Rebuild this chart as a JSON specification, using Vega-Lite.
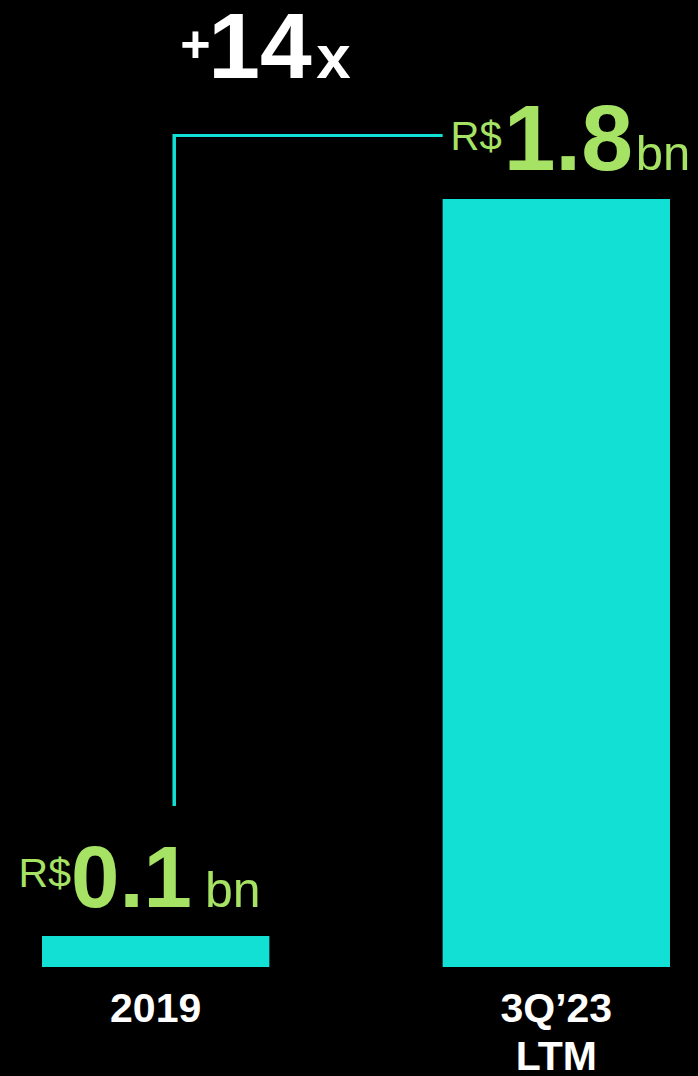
{
  "$schema": "https://vega.github.io/schema/vega-lite/v6.json",
  "width": 698,
  "height": 1076,
  "autosize": {"type": "none"},
  "padding": 0,
  "background": "#000000",
  "config": {"view": {"stroke": null}, "font": "Liberation Sans"},
  "datasets": {
    "bars": [
      {"period": "2019", "value": 0.0727, "amount": "0.1", "currency": "R$", "unit": "bn"},
      {"period": "3Q’23 LTM", "value": 1.8, "amount": "1.8", "currency": "R$", "unit": "bn"}
    ],
    "growth": [
      {"from": "2019", "to": "3Q’23 LTM", "low": 0.3773, "high": 1.9523, "level": 1.9488, "plus": "+", "multiple": "14", "suffix": "x"}
    ]
  },
  "encoding": {
    "x": {"field": "period", "type": "nominal", "sort": null,
          "scale": {"domain": ["2019", "3Q’23 LTM"], "range": [42, 670], "paddingInner": 0.4325, "paddingOuter": 0},
          "axis": null}
  },
  "layer": [
    {
      "data": {"name": "bars"},
      "mark": {"type": "bar", "color": "#13E0D5"},
      "encoding": {
        "y": {"field": "value", "type": "quantitative", "scale": {"domain": [0, 2.2664], "range": [967, 0], "nice": false, "zero": true}, "axis": null}
      }
    },
    {
      "data": {"name": "bars"},
      "mark": {"type": "text", "font": "Liberation Sans", "fontWeight": "bold", "fontSize": 41, "color": "#FFFFFF", "align": "center", "baseline": "alphabetic", "lineBreak": " ", "lineHeight": 48, "dy": 55},
      "encoding": {
        "y": {"datum": 0, "type": "quantitative"},
        "text": {"field": "period"}
      }
    },
    {
      "data": {"name": "bars"},
      "transform": [{"filter": "datum.period === '2019'"}],
      "layer": [
        {"mark": {"type": "text", "fontSize": 41, "color": "#A6E264", "align": "right", "baseline": "alphabetic", "dx": 29, "dy": -49},
         "encoding": {"x": {"field": "period", "type": "nominal", "bandPosition": 0}, "y": {"field": "value", "type": "quantitative"}, "text": {"field": "currency"}}},
        {"mark": {"type": "text", "fontSize": 87, "fontWeight": "bold", "color": "#A6E264", "align": "left", "baseline": "alphabetic", "dx": 29, "dy": -29},
         "encoding": {"x": {"field": "period", "type": "nominal", "bandPosition": 0}, "y": {"field": "value", "type": "quantitative"}, "text": {"field": "amount"}}},
        {"mark": {"type": "text", "fontSize": 50, "color": "#A6E264", "align": "left", "baseline": "alphabetic", "dx": 163, "dy": -29},
         "encoding": {"x": {"field": "period", "type": "nominal", "bandPosition": 0}, "y": {"field": "value", "type": "quantitative"}, "text": {"field": "unit"}}}
      ]
    },
    {
      "data": {"name": "bars"},
      "transform": [{"filter": "datum.period !== '2019'"}],
      "layer": [
        {"mark": {"type": "text", "fontSize": 40, "color": "#A6E264", "align": "right", "baseline": "alphabetic", "dx": 59, "dy": -49},
         "encoding": {"x": {"field": "period", "type": "nominal", "bandPosition": 0}, "y": {"field": "value", "type": "quantitative"}, "text": {"field": "currency"}}},
        {"mark": {"type": "text", "fontSize": 93, "fontWeight": "bold", "color": "#A6E264", "align": "left", "baseline": "alphabetic", "dx": 61, "dy": -29},
         "encoding": {"x": {"field": "period", "type": "nominal", "bandPosition": 0}, "y": {"field": "value", "type": "quantitative"}, "text": {"field": "amount"}}},
        {"mark": {"type": "text", "fontSize": 49, "color": "#A6E264", "align": "left", "baseline": "alphabetic", "dx": 193, "dy": -29},
         "encoding": {"x": {"field": "period", "type": "nominal", "bandPosition": 0}, "y": {"field": "value", "type": "quantitative"}, "text": {"field": "unit"}}}
      ]
    },
    {
      "data": {"name": "growth"},
      "mark": {"type": "rule", "color": "#13E0D5", "strokeWidth": 3.5},
      "encoding": {
        "x": {"field": "from", "type": "nominal", "bandPosition": 0.5815},
        "y": {"field": "low", "type": "quantitative"},
        "y2": {"field": "high"}
      }
    },
    {
      "data": {"name": "growth"},
      "mark": {"type": "rule", "color": "#13E0D5", "strokeWidth": 3},
      "encoding": {
        "x": {"field": "from", "type": "nominal", "bandPosition": 0.5815},
        "x2": {"field": "to", "bandPosition": 0},
        "y": {"field": "level", "type": "quantitative"}
      }
    },
    {
      "data": {"name": "growth"},
      "layer": [
        {"mark": {"type": "text", "fontSize": 52, "fontWeight": "bold", "color": "#FFFFFF", "align": "left", "baseline": "alphabetic", "dx": 6, "dy": -74},
         "encoding": {"x": {"field": "from", "type": "nominal", "bandPosition": 0.5815}, "y": {"field": "level", "type": "quantitative"}, "text": {"field": "plus"}}},
        {"mark": {"type": "text", "fontSize": 93, "fontWeight": "bold", "color": "#FFFFFF", "align": "left", "baseline": "alphabetic", "dx": 34, "dy": -58},
         "encoding": {"x": {"field": "from", "type": "nominal", "bandPosition": 0.5815}, "y": {"field": "level", "type": "quantitative"}, "text": {"field": "multiple"}}},
        {"mark": {"type": "text", "fontSize": 62, "fontWeight": "bold", "color": "#FFFFFF", "align": "left", "baseline": "alphabetic", "dx": 142, "dy": -58},
         "encoding": {"x": {"field": "from", "type": "nominal", "bandPosition": 0.5815}, "y": {"field": "level", "type": "quantitative"}, "text": {"field": "suffix"}}}
      ]
    }
  ]
}
